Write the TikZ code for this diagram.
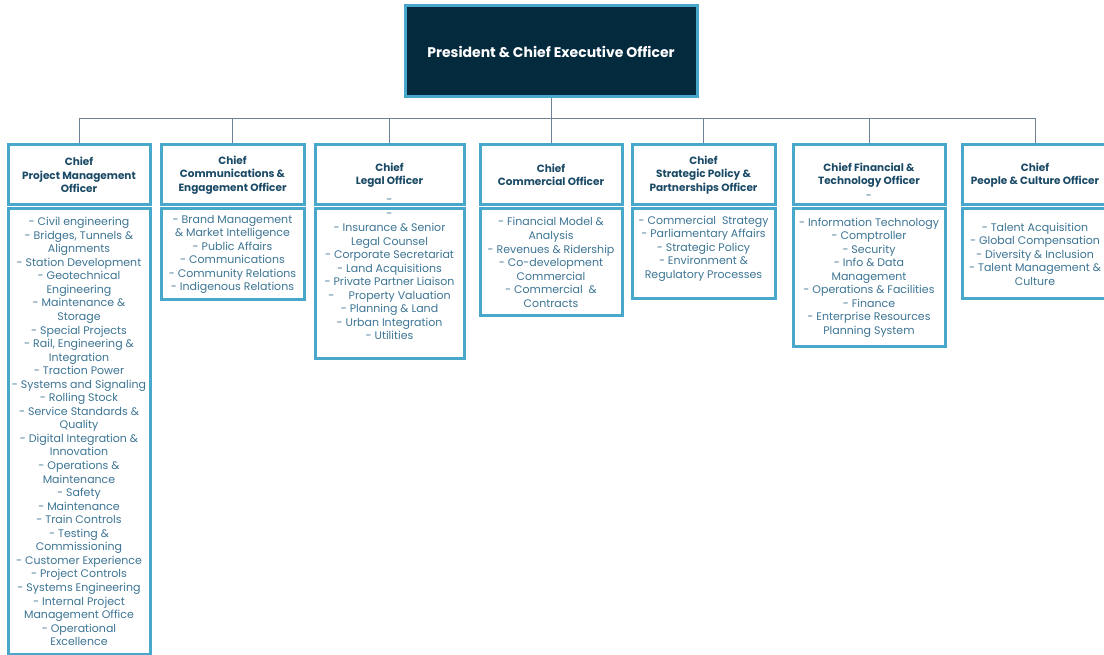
\documentclass[tikz,border=0pt]{standalone}
\usepackage{fontspec}
\setmainfont{Poppins}
\definecolor{navy}{RGB}{4,42,62}
\definecolor{frame}{RGB}{72,168,204}
\definecolor{headtext}{RGB}{27,74,102}
\definecolor{bodytext}{RGB}{60,116,148}
\definecolor{wire}{RGB}{110,130,150}

\begin{document}
\begin{tikzpicture}[x=1pt,y=-1pt,
  ceo/.style={draw=frame,fill=navy,line width=3pt,text=white,
    font=\bfseries\fontsize{14}{16}\selectfont,minimum width=292pt,minimum height=91pt},
  head/.style={draw=frame,line width=3pt,text=headtext,align=center,
    font=\bfseries\fontsize{10.5}{13.5}\selectfont,minimum height=60pt,inner sep=0pt},
  body/.style={draw=frame,line width=3pt,text=bodytext,align=center,
    font=\fontsize{11}{13.55}\selectfont,inner sep=0pt},
  dashmark/.style={text=bodytext,font=\fontsize{11}{13}\selectfont,inner sep=0pt},
  wire/.style={draw=wire,line width=0.8pt}]
  \useasboundingbox (0,0) rectangle (1104,655);

  \node[ceo] (ceo) at (551,51.5) {President \& Chief Executive Officer};
  \coordinate (bus) at (551,118);

  % heads
  \node[head,minimum width=142pt] (pmo) at (79,175) {Chief\\Project Management\\Officer};
  \node[head,minimum width=143pt] (cmo) at (232.5,175) {Chief\\Communications \&\\Engagement Officer};
  \node[head,minimum width=149pt] (lgl) at (389.5,175) {Chief\\Legal Officer};
  \node[head,minimum width=142pt] (com) at (551,175) {Chief\\Commercial Officer};
  \node[head,minimum width=143pt] (spo) at (703.5,175) {Chief\\Strategic Policy \&\\Partnerships Officer};
  \node[head,minimum width=152pt] (cft) at (869,175) {Chief Financial \&\\Technology Officer};
  \node[head,minimum width=146pt] (pco) at (1035,175) {Chief\\People \& Culture Officer};
  \node[dashmark] (lgldash) at (389.5,201) {-};
  \node[dashmark] (cftdash) at (869,197) {-};

  % portfolios
  \node[body,minimum width=142pt,minimum height=445pt] (pmob) at (79,431.5) {- Civil engineering\\- Bridges, Tunnels \&\\Alignments\\- Station Development\\- Geotechnical\\Engineering\\- Maintenance \&\\Storage\\- Special Projects\\- Rail, Engineering \&\\Integration\\- Traction Power\\- Systems and Signaling\\- Rolling Stock\\- Service Standards \&\\Quality\\- Digital Integration \&\\Innovation\\- Operations \&\\Maintenance\\- Safety\\- Maintenance\\- Train Controls\\- Testing \&\\Commissioning\\- Customer Experience\\- Project Controls\\- Systems Engineering\\- Internal Project\\Management Office\\- Operational\\Excellence};
  \node[body,minimum width=143pt,minimum height=91pt] (cmob) at (232.5,254.5) {- Brand Management\\\& Market Intelligence\\- Public\ Affairs\\- Communications\\- Community Relations\\- Indigenous Relations};
  \node[body,minimum width=149pt,minimum height=149pt] (lglb) at (389.5,283.5) {-\\- Insurance \& Senior\\Legal Counsel\\- Corporate Secretariat\\- Land Acquisitions\\- Private Partner Liaison\\-\hspace{1.3em}Property Valuation\\- Planning \& Land\\- Urban Integration\\- Utilities\\\mbox{}};
  \node[body,minimum width=142pt,minimum height=107pt] (comb) at (551,262.5) {- Financial Model \&\\Analysis\\- Revenues \& Ridership\\- Co-development\\Commercial\\- Commercial\ \ \&\\Contracts};
  \node[body,minimum width=143pt,minimum height=90pt] (spob) at (703.5,254) {- Commercial\ \ Strategy\\- Parliamentary Affairs\\- Strategic Policy\\- Environment \&\\Regulatory Processes\\\mbox{}};
  \node[body,minimum width=152pt,minimum height=137pt] (cftb) at (869,277.5) {- Information Technology\\- Comptroller\\- Security\\- Info \& Data\\Management\\- Operations \& Facilities\\- Finance\\- Enterprise Resources\\Planning System};
  \node[body,minimum width=146pt,minimum height=90pt] (pcob) at (1035,254) {- Talent Acquisition\\- Global Compensation\\- Diversity \& Inclusion\\- Talent Management \&\\Culture};

  % reporting lines
  \draw[wire] (ceo.south) -- (bus);
  \draw[wire] (pmo.north |- bus) -- (pco.north |- bus);
  \foreach \n in {pmo,cmo,lgl,com,spo,cft,pco}
    \draw[wire] (\n.north |- bus) -- (\n.north);
\end{tikzpicture}
\end{document}
